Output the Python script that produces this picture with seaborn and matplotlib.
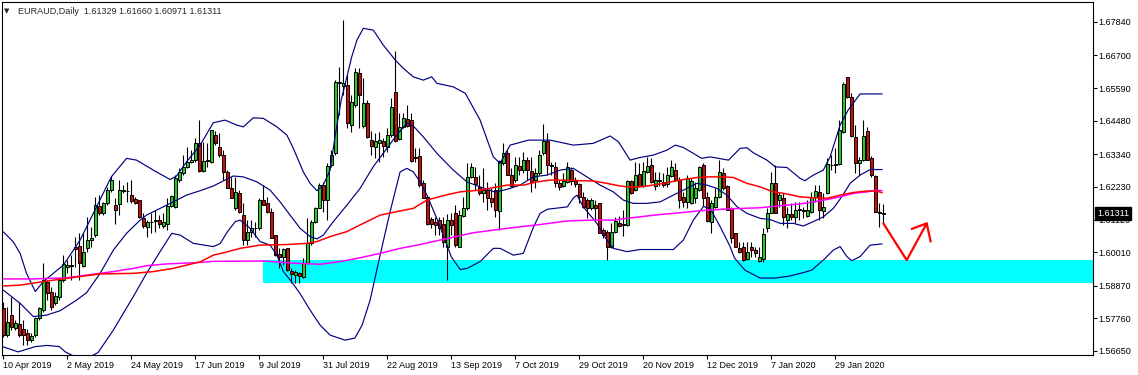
import matplotlib
matplotlib.use("Agg")
import matplotlib.pyplot as plt
import matplotlib.transforms as mtransforms
import numpy as np
import pandas as pd
import seaborn as sns

# ---- daily candles (10 Apr 2019 .. 7 Feb 2020) ----
opens = [
    1.5810, 1.5719, 1.5787, 1.5742, 1.5757, 1.5739, 1.5725, 1.5702, 1.5719, 1.5776,
    1.5804, 1.5901, 1.5867, 1.5829, 1.5850, 1.5906, 1.5952, 1.5955, 1.6020, 1.6022,
    1.5954, 1.6014, 1.6044, 1.6059, 1.6158, 1.6133, 1.6167, 1.6212, 1.6163, 1.6165,
    1.6212, 1.6210, 1.6197, 1.6181, 1.6178, 1.6116, 1.6087, 1.6104, 1.6107, 1.6110,
    1.6090, 1.6097, 1.6158, 1.6155, 1.6246, 1.6269, 1.6291, 1.6307, 1.6314, 1.6371,
    1.6277, 1.6311, 1.6308, 1.6399, 1.6359, 1.6331, 1.6272, 1.6220, 1.6152, 1.6201,
    1.6129, 1.6042, 1.6068, 1.6082, 1.6082, 1.6178, 1.6167, 1.6136, 1.6059, 1.5996,
    1.5986, 1.6014, 1.5937, 1.5923, 1.5930, 1.5918, 1.5963, 1.6031, 1.6105, 1.6152,
    1.6231, 1.6178, 1.6297, 1.6337, 1.6580, 1.6566, 1.6569, 1.6433, 1.6501, 1.6609,
    1.6430, 1.6507, 1.6384, 1.6358, 1.6373, 1.6379, 1.6359, 1.6399, 1.6546, 1.6386,
    1.6427, 1.6454, 1.6450, 1.6320, 1.6329, 1.6235, 1.6189, 1.6113, 1.6102, 1.6110,
    1.6096, 1.6020, 1.6112, 1.6133, 1.6020, 1.6124, 1.6150, 1.6255, 1.6255, 1.6223,
    1.6201, 1.6212, 1.6184, 1.6212, 1.6142, 1.6303, 1.6337, 1.6263, 1.6248, 1.6294,
    1.6280, 1.6316, 1.6278, 1.6246, 1.6269, 1.6337, 1.6380, 1.6297, 1.6291, 1.6237,
    1.6226, 1.6240, 1.6282, 1.6244, 1.6233, 1.6187, 1.6178, 1.6150, 1.6163, 1.6167,
    1.6078, 1.6070, 1.6017, 1.6070, 1.6101, 1.6095, 1.6093, 1.6244, 1.6214, 1.6266,
    1.6226, 1.6274, 1.6297, 1.6226, 1.6244, 1.6240, 1.6233, 1.6260, 1.6282, 1.6248,
    1.6187, 1.6172, 1.6167, 1.6186, 1.6212, 1.6297, 1.6189, 1.6105, 1.6156, 1.6187,
    1.6271, 1.6226, 1.6150, 1.6065, 1.6014, 1.6020, 1.5977, 1.6017, 1.6010, 1.5972,
    1.5977, 1.6082, 1.6135, 1.6235, 1.6178, 1.6184, 1.6112, 1.6131, 1.6121, 1.6146,
    1.6146, 1.6124, 1.6138, 1.6189, 1.6206, 1.6142, 1.6201, 1.6299, 1.6297, 1.6301,
    1.6410, 1.6595, 1.6527, 1.6391, 1.6303, 1.6316, 1.6413, 1.6320, 1.6260, 1.6138,
    1.61329,
]
highs = [
    1.5833, 1.5816, 1.5850, 1.5770, 1.5833, 1.5770, 1.5739, 1.5725, 1.5782, 1.5816,
    1.5963, 1.5906, 1.5884, 1.5867, 1.5912, 1.5991, 1.5974, 1.5991, 1.6053, 1.6065,
    1.6065, 1.6121, 1.6087, 1.6189, 1.6195, 1.6172, 1.6223, 1.6260, 1.6184, 1.6246,
    1.6229, 1.6240, 1.6248, 1.6189, 1.6180, 1.6133, 1.6110, 1.6133, 1.6144, 1.6127,
    1.6133, 1.6184, 1.6195, 1.6263, 1.6286, 1.6331, 1.6359, 1.6348, 1.6388, 1.6450,
    1.6376, 1.6371, 1.6418, 1.6414, 1.6405, 1.6348, 1.6280, 1.6257, 1.6257, 1.6212,
    1.6167, 1.6110, 1.6110, 1.6105, 1.6184, 1.6229, 1.6189, 1.6150, 1.6060, 1.6014,
    1.6014, 1.6015, 1.5946, 1.5940, 1.5935, 1.5980, 1.6116, 1.6110, 1.6156, 1.6235,
    1.6240, 1.6303, 1.6348, 1.6586, 1.6631, 1.6790, 1.6603, 1.6535, 1.6626, 1.6626,
    1.6592, 1.6518, 1.6413, 1.6405, 1.6410, 1.6390, 1.6422, 1.6524, 1.6685, 1.6473,
    1.6473, 1.6501, 1.6473, 1.6354, 1.6354, 1.6246, 1.6195, 1.6122, 1.6122, 1.6122,
    1.6122, 1.6131, 1.6133, 1.6161, 1.6144, 1.6189, 1.6303, 1.6303, 1.6289, 1.6263,
    1.6286, 1.6240, 1.6218, 1.6235, 1.6314, 1.6373, 1.6348, 1.6286, 1.6325, 1.6325,
    1.6342, 1.6325, 1.6325, 1.6286, 1.6348, 1.6436, 1.6405, 1.6308, 1.6308, 1.6246,
    1.6269, 1.6308, 1.6291, 1.6257, 1.6235, 1.6206, 1.6184, 1.6184, 1.6180, 1.6169,
    1.6082, 1.6076, 1.6099, 1.6121, 1.6124, 1.6144, 1.6246, 1.6246, 1.6308, 1.6303,
    1.6308, 1.6325, 1.6320, 1.6274, 1.6274, 1.6269, 1.6291, 1.6316, 1.6303, 1.6257,
    1.6206, 1.6263, 1.6252, 1.6240, 1.6294, 1.6303, 1.6206, 1.6178, 1.6218, 1.6314,
    1.6286, 1.6229, 1.6156, 1.6067, 1.6037, 1.6037, 1.6037, 1.6037, 1.6017, 1.6020,
    1.6082, 1.6150, 1.6274, 1.6297, 1.6206, 1.6201, 1.6156, 1.6167, 1.6172, 1.6172,
    1.6156, 1.6178, 1.6206, 1.6229, 1.6229, 1.6203, 1.6320, 1.6331, 1.6354, 1.6450,
    1.6580, 1.6597, 1.6543, 1.6433, 1.6325, 1.6450, 1.6427, 1.6328, 1.6263, 1.6167,
    1.61660,
]
lows = [
    1.5714, 1.5714, 1.5736, 1.5736, 1.5714, 1.5685, 1.5685, 1.5697, 1.5714, 1.5770,
    1.5799, 1.5838, 1.5804, 1.5821, 1.5838, 1.5901, 1.5929, 1.5906, 1.5952, 1.5906,
    1.5952, 1.6002, 1.6020, 1.6053, 1.6127, 1.6127, 1.6161, 1.6206, 1.6097, 1.6127,
    1.6201, 1.6172, 1.6167, 1.6165, 1.6116, 1.6082, 1.6053, 1.6065, 1.6070, 1.6082,
    1.6082, 1.6076, 1.6155, 1.6150, 1.6240, 1.6263, 1.6286, 1.6303, 1.6308, 1.6274,
    1.6274, 1.6291, 1.6303, 1.6365, 1.6325, 1.6246, 1.6218, 1.6184, 1.6144, 1.6133,
    1.6025, 1.6025, 1.6054, 1.6054, 1.6076, 1.6161, 1.6133, 1.6048, 1.5989, 1.5946,
    1.5957, 1.5937, 1.5895, 1.5895, 1.5895, 1.5912, 1.5960, 1.6025, 1.6099, 1.6150,
    1.6139, 1.6110, 1.6292, 1.6333, 1.6467, 1.6535, 1.6422, 1.6410, 1.6495, 1.6422,
    1.6422, 1.6390, 1.6331, 1.6320, 1.6308, 1.6325, 1.6342, 1.6393, 1.6376, 1.6382,
    1.6422, 1.6427, 1.6308, 1.6308, 1.6223, 1.6184, 1.6093, 1.6082, 1.6059, 1.6059,
    1.6020, 1.5906, 1.6059, 1.6020, 1.6017, 1.6121, 1.6146, 1.6252, 1.6212, 1.6195,
    1.6172, 1.6144, 1.6155, 1.6121, 1.6076, 1.6297, 1.6263, 1.6223, 1.6240, 1.6263,
    1.6269, 1.6246, 1.6206, 1.6218, 1.6263, 1.6331, 1.6263, 1.6263, 1.6223, 1.6212,
    1.6221, 1.6237, 1.6229, 1.6223, 1.6167, 1.6150, 1.6116, 1.6144, 1.6110, 1.6065,
    1.6048, 1.5976, 1.6014, 1.6067, 1.6088, 1.6056, 1.6090, 1.6199, 1.6210, 1.6221,
    1.6221, 1.6271, 1.6237, 1.6212, 1.6226, 1.6223, 1.6223, 1.6255, 1.6244, 1.6150,
    1.6156, 1.6150, 1.6165, 1.6167, 1.6210, 1.6158, 1.6105, 1.6065, 1.6150, 1.6184,
    1.6212, 1.6144, 1.6033, 1.6017, 1.5997, 1.5972, 1.5974, 1.5986, 1.5986, 1.5969,
    1.5969, 1.6071, 1.6133, 1.6133, 1.6156, 1.6093, 1.6082, 1.6110, 1.6099, 1.6112,
    1.6116, 1.6121, 1.6133, 1.6172, 1.6112, 1.6116, 1.6199, 1.6280, 1.6269, 1.6297,
    1.6405, 1.6524, 1.6393, 1.6269, 1.6263, 1.6312, 1.6314, 1.6257, 1.6138, 1.6088,
    1.60971,
]
closes = [
    1.5719, 1.5765, 1.5748, 1.5759, 1.5719, 1.5719, 1.5702, 1.5716, 1.5776, 1.5810,
    1.5906, 1.5861, 1.5816, 1.5852, 1.5906, 1.5961, 1.5959, 1.5958, 1.6012, 1.5963,
    1.6002, 1.6044, 1.6048, 1.6161, 1.6135, 1.6167, 1.6214, 1.6248, 1.6144, 1.6214,
    1.6210, 1.6208, 1.6175, 1.6167, 1.6119, 1.6090, 1.6102, 1.6105, 1.6112, 1.6097,
    1.6102, 1.6159, 1.6192, 1.6252, 1.6274, 1.6291, 1.6308, 1.6316, 1.6371, 1.6278,
    1.6311, 1.6313, 1.6416, 1.6371, 1.6331, 1.6274, 1.6220, 1.6186, 1.6204, 1.6136,
    1.6042, 1.6071, 1.6082, 1.6084, 1.6178, 1.6163, 1.6136, 1.6050, 1.5991, 1.5986,
    1.6011, 1.5940, 1.5928, 1.5932, 1.5920, 1.5963, 1.6031, 1.6102, 1.6150, 1.6231,
    1.6178, 1.6295, 1.6333, 1.6580, 1.6575, 1.6575, 1.6439, 1.6510, 1.6614, 1.6535,
    1.6507, 1.6393, 1.6362, 1.6379, 1.6382, 1.6363, 1.6401, 1.6493, 1.6380, 1.6425,
    1.6456, 1.6431, 1.6311, 1.6325, 1.6229, 1.6186, 1.6097, 1.6096, 1.6093, 1.6082,
    1.6036, 1.6112, 1.6093, 1.6025, 1.6126, 1.6150, 1.6255, 1.6291, 1.6233, 1.6203,
    1.6212, 1.6184, 1.6172, 1.6144, 1.6311, 1.6339, 1.6265, 1.6226, 1.6297, 1.6282,
    1.6316, 1.6280, 1.6240, 1.6271, 1.6331, 1.6380, 1.6297, 1.6294, 1.6235, 1.6223,
    1.6243, 1.6289, 1.6244, 1.6233, 1.6187, 1.6155, 1.6150, 1.6178, 1.6150, 1.6067,
    1.6061, 1.6020, 1.6070, 1.6107, 1.6090, 1.6097, 1.6244, 1.6201, 1.6263, 1.6226,
    1.6278, 1.6294, 1.6240, 1.6248, 1.6245, 1.6229, 1.6263, 1.6289, 1.6248, 1.6180,
    1.6172, 1.6252, 1.6243, 1.6218, 1.6289, 1.6184, 1.6108, 1.6169, 1.6189, 1.6274,
    1.6218, 1.6146, 1.6050, 1.6020, 1.6003, 1.5974, 1.6003, 1.6008, 1.5997, 1.5983,
    1.6063, 1.6133, 1.6235, 1.6135, 1.6195, 1.6119, 1.6131, 1.6119, 1.6144, 1.6148,
    1.6142, 1.6146, 1.6189, 1.6210, 1.6146, 1.6156, 1.6301, 1.6297, 1.6301, 1.6416,
    1.6572, 1.6527, 1.6396, 1.6303, 1.6314, 1.6396, 1.6316, 1.6263, 1.6138, 1.6133,
    1.61311,
]

# ---- indicator lines (bar index, price) ----
bb_up_x = [0, 2.5, 4.2, 5.8, 8, 10, 15, 19.2, 23.3, 27, 30.8, 33.3, 37.5, 41.7, 43.3,
           45.8, 49.2, 52.5, 55.4, 58.4, 60, 62.5, 65, 68.4, 70.9, 72.5, 75, 76.7, 78.4,
           80, 81.7, 83, 84.5, 85.9, 87.1, 88.4, 90, 92.5, 95, 98, 100, 102.5, 105,
           107.1, 108.4, 110.5, 112.5, 115.5, 119.2, 122.5, 124.2, 126.7, 131.3, 136.7,
           142.5, 147.5, 151.7, 153.8, 156.7, 159.2, 162.5, 165.9, 168, 170, 172.5,
           174.6, 176.7, 181.3, 184.2, 185.9, 187.5, 190.9, 193, 195.9, 199.2, 200.4,
           202.5, 205, 206.7, 209.2, 211.2, 214.2, 219.7]
bb_up_y = [1.6070, 1.6036, 1.5997, 1.5929, 1.5867, 1.5901, 1.5957, 1.6042, 1.6155, 1.6257,
           1.6320, 1.6314, 1.6280, 1.6248, 1.6260, 1.6308, 1.6365, 1.6441, 1.6450, 1.6433,
           1.6427, 1.6458, 1.6456, 1.6427, 1.6399, 1.6354, 1.6274, 1.6235, 1.6210, 1.6230,
           1.6280, 1.6400, 1.6520, 1.6597, 1.6665, 1.6722, 1.6762, 1.6756, 1.6705, 1.6654,
           1.6626, 1.6597, 1.6586, 1.6597, 1.6575, 1.6569, 1.6563, 1.6541, 1.6450, 1.6325,
           1.6303, 1.6365, 1.6382, 1.6382, 1.6365, 1.6371, 1.6396, 1.6376, 1.6314, 1.6323,
           1.6331, 1.6348, 1.6365, 1.6357, 1.6337, 1.6320, 1.6325, 1.6314, 1.6354, 1.6356,
           1.6339, 1.6314, 1.6291, 1.6289, 1.6252, 1.6244, 1.6263, 1.6280, 1.6325, 1.6433,
           1.6484, 1.6539, 1.6539]

bb_mid_x = [0, 4.2, 7.5, 10.8, 14.2, 18.3, 20.8, 24.2, 27.5, 30.8, 34.2, 35.8, 39.2, 42.5,
            45.8, 49.2, 52.5, 55.4, 57.5, 60, 63.4, 66.7, 69.2, 71.7, 74.2, 76.7, 78.4, 80,
            82.5, 85.9, 89.2, 92.5, 95.9, 98.4, 100.9, 102.5, 105, 108.4, 112.5, 115.9,
            119.2, 123, 126, 129.2, 132.5, 135.9, 139.2, 142.5, 145.9, 149.2, 152.5, 155,
            157.5, 160.9, 164.2, 167.5, 170.9, 173.4, 175.9, 178.4, 180.9, 183.4, 185.9,
            189.2, 191.7, 194.2, 197.5, 200, 202.5, 205, 207.5, 209.6, 211.7, 214.2, 216.7,
            219.7]
bb_mid_y = [1.5872, 1.5827, 1.5782, 1.5787, 1.5802, 1.5838, 1.5863, 1.5929, 1.6008, 1.6065,
            1.6110, 1.6127, 1.6150, 1.6172, 1.6195, 1.6210, 1.6226, 1.6246, 1.6260, 1.6257,
            1.6240, 1.6212, 1.6172, 1.6127, 1.6082, 1.6054, 1.6046, 1.6059, 1.6105, 1.6161,
            1.6218, 1.6292, 1.6354, 1.6400, 1.6440, 1.6430, 1.6393, 1.6337, 1.6280, 1.6240,
            1.6223, 1.6205, 1.6215, 1.6229, 1.6257, 1.6263, 1.6280, 1.6286, 1.6257, 1.6229,
            1.6206, 1.6178, 1.6167, 1.6167, 1.6172, 1.6195, 1.6218, 1.6235, 1.6229, 1.6218,
            1.6195, 1.6156, 1.6133, 1.6116, 1.6112, 1.6099, 1.6099, 1.6090, 1.6105, 1.6121,
            1.6150, 1.6189, 1.6235, 1.6263, 1.6282, 1.6282]

bb_low_x = [0, 3.7, 8, 11, 14, 15.5, 18, 21, 23.7, 27.5, 32.5, 35.8, 39.2, 42.1, 44.2,
            47.5, 52.5, 54.2, 56, 58, 59.2, 61.7, 64.2, 66.7, 68.4, 70, 72.1, 74.2, 76.7,
            79.2, 81.7, 85.4, 87.9, 89.7, 91.7, 94.2, 96.7, 99.2, 100.9, 102.5, 104.2,
            105.9, 108.4, 110.5, 112, 114.2, 116, 119.2, 122.5, 124.2, 127.5, 130, 132.5,
            134.2, 136, 141, 142.5, 143.4, 145, 148.4, 150.9, 152.5, 155.9, 159.2, 165.4,
            167.5, 170, 172.5, 175, 176.7, 179.2, 181.7, 182.8, 185.4, 189.2, 193, 196.7,
            200.4, 202.1, 205, 207.5, 209.2, 210.9, 212.1, 214.2, 216.7, 219.7]
bb_low_y = [1.5679, 1.5662, 1.5680, 1.5684, 1.5680, 1.5662, 1.5645, 1.5640, 1.5660, 1.5736,
            1.5850, 1.5929, 1.6003, 1.6065, 1.6059, 1.6031, 1.6020, 1.6030, 1.6070, 1.6105,
            1.6110, 1.6082, 1.6037, 1.6025, 1.5991, 1.5935, 1.5900, 1.5860, 1.5804, 1.5753,
            1.5719, 1.5702, 1.5709, 1.5753, 1.5838, 1.5991, 1.6139, 1.6274, 1.6286, 1.6274,
            1.6240, 1.6195, 1.6115, 1.6040, 1.5985, 1.5942, 1.5946, 1.5969, 1.6014, 1.6014,
            1.5991, 1.5997, 1.6085, 1.6133, 1.6147, 1.6155, 1.6185, 1.6195, 1.6155, 1.6099,
            1.6042, 1.6014, 1.6003, 1.6010, 1.6010, 1.6010, 1.6042, 1.6110, 1.6156, 1.6150,
            1.6088, 1.6020, 1.5981, 1.5940, 1.5913, 1.5913, 1.5920, 1.5933, 1.5940, 1.5974,
            1.6008, 1.6020, 1.5986, 1.5972, 1.5986, 1.6025, 1.6029]

ma_red_x = [0, 4.2, 10, 15.8, 24.2, 32.5, 37.5, 42.5, 45.8, 49.2, 52.5, 55.4, 59.2, 64.2,
            70.9, 75.9, 78.4, 81.7, 85.9, 90, 94.2, 98.4, 102.5, 105.9, 110.5, 114.2,
            119.2, 125.9, 130, 133.4, 136.7, 140.9, 144.2, 147.5, 150.9, 154.2, 157.5,
            160.9, 164.2, 169.2, 173.4, 176.7, 180, 182.5, 185.9, 189.2, 192.5, 195.9,
            199.2, 202.5, 205.9, 209.2, 212.5, 215.9, 218.4, 219.7]
ma_red_y = [1.5886, 1.5889, 1.5901, 1.5912, 1.5927, 1.5929, 1.5935, 1.5946, 1.5957, 1.5968,
            1.5991, 1.6000, 1.6014, 1.6025, 1.6027, 1.6031, 1.6037, 1.6054, 1.6071, 1.6099,
            1.6127, 1.6139, 1.6150, 1.6178, 1.6195, 1.6206, 1.6212, 1.6229, 1.6229, 1.6240,
            1.6246, 1.6246, 1.6244, 1.6243, 1.6235, 1.6226, 1.6221, 1.6226, 1.6233, 1.6246,
            1.6255, 1.6257, 1.6257, 1.6255, 1.6235, 1.6223, 1.6206, 1.6199, 1.6189, 1.6186,
            1.6184, 1.6195, 1.6204, 1.6209, 1.6209, 1.6203]

ma_mag_x = [0, 7.5, 15.8, 24.2, 27.5, 32.5, 35.8, 40.8, 45.8, 49.2, 52.5, 55.4, 65, 73.4,
            79.2, 84.2, 89.2, 94.2, 99.2, 104.2, 110.5, 117.5, 125.9, 134.2, 140.9, 146.7,
            152.5, 155.9, 160.9, 164.2, 169.2, 174.2, 180.9, 189.2, 194.2, 199.2, 202.5,
            205.9, 209.2, 212.5, 215.9, 218.4, 219.7]
ma_mag_y = [1.5910, 1.5910, 1.5914, 1.5929, 1.5935, 1.5946, 1.5955, 1.5961, 1.5964, 1.5966,
            1.5970, 1.5970, 1.5971, 1.5963, 1.5960, 1.5969, 1.5982, 1.5997, 1.6014, 1.6027,
            1.6046, 1.6067, 1.6082, 1.6095, 1.6107, 1.6110, 1.6110, 1.6116, 1.6124, 1.6129,
            1.6135, 1.6142, 1.6148, 1.6152, 1.6159, 1.6165, 1.6172, 1.6180, 1.6189, 1.6201,
            1.6206, 1.6212, 1.6210]

# support zone (cyan) and the hand-drawn red arrow
zone_start = 64.85
zone_low, zone_high = 1.5897, 1.5974
arrow_x = [220, 225.85, 230.85]
arrow_y = [1.6099, 1.5974, 1.6099]
head_x = [227.1, 230.85, 231.85]
head_y = [1.6080, 1.6099, 1.6037]

tick_bars = [0, 16, 32, 48, 64, 80, 96, 112, 128, 144, 160, 176, 192, 208]
tick_dates = ["10 Apr 2019", "2 May 2019", "24 May 2019", "17 Jun 2019", "9 Jul 2019",
              "31 Jul 2019", "22 Aug 2019", "13 Sep 2019", "7 Oct 2019", "29 Oct 2019",
              "20 Nov 2019", "12 Dec 2019", "7 Jan 2020", "29 Jan 2020"]
price_ticks = [1.67840, 1.66700, 1.65590, 1.64480, 1.63340, 1.62230,
               1.61120, 1.60010, 1.58870, 1.57760, 1.56650]

sns.set_style("white")
plt.rcParams['font.family'] = ['Liberation Sans', 'DejaVu Sans']

W, H = 1138, 375
fig = plt.figure(figsize=(W / 100, H / 100), dpi=100)
left, right, top, bottom = 2, 1092.5, 2, 354.5
ax = fig.add_axes([left / W, 1 - bottom / H, (right - left) / W, (bottom - top) / H])

df = pd.DataFrame({"o": opens, "h": highs, "l": lows, "c": closes})
df["i"] = np.arange(len(df))
bull = df["c"] >= df["o"]

# zone behind everything
ax.fill_between([zone_start, 300], zone_low, zone_high, color="#00FFFF", lw=0, zorder=0.5)

# wicks + bodies
ax.vlines(df["i"], df["l"], df["h"], color="black", lw=0.8, zorder=3)
body_lo = np.minimum(df["o"], df["c"])
body_h = (df["c"] - df["o"]).abs()
ax.bar(df["i"], body_h, bottom=body_lo, width=0.72,
       color=np.where(bull, "#22cc22", "#d20a0a"), edgecolor="black",
       linewidth=0.7, zorder=4)

# indicators
for xs, ys, col, lw in [(bb_up_x, bb_up_y, "#000080", 0.85),
                        (bb_mid_x, bb_mid_y, "#000080", 0.85),
                        (bb_low_x, bb_low_y, "#000080", 0.85),
                        (ma_mag_x, ma_mag_y, "#FF00FF", 1.1),
                        (ma_red_x, ma_red_y, "#FF0000", 1.1)]:
    sns.lineplot(x=xs, y=ys, color=col, lw=lw, ax=ax, legend=False,
                 estimator=None, sort=False, zorder=5)

sns.lineplot(x=arrow_x, y=arrow_y, color="#FF0000", lw=1.6, ax=ax, sort=False,
             estimator=None, zorder=6)
sns.lineplot(x=head_x, y=head_y, color="#FF0000", lw=1.6, ax=ax, sort=False,
             estimator=None, zorder=6)

ax.set_xlim(-0.33, 272.3)
ax.set_ylim(1.56531, 1.68516)
ax.set_xlabel("")
ax.set_ylabel("")

ax.set_xticks(tick_bars)
ax.set_xticklabels(tick_dates, ha="left")
ax.yaxis.tick_right()
ax.set_yticks(price_ticks)
ax.set_yticklabels([f"{v:.5f}" for v in price_ticks])
ax.tick_params(axis="x", bottom=True, length=3, width=0.8, pad=1.5,
               labelsize=6.5, colors="black")
ax.tick_params(axis="y", right=True, left=False, labelright=True, labelleft=False,
               length=3, width=0.8, pad=1.5, labelsize=6.5, colors="black")
for s in ax.spines.values():
    s.set_color("black")
    s.set_linewidth(0.8)

# header and last-price tag
ax.text(0.002, 0.974, "\u25BC", transform=ax.transAxes, fontsize=5,
        family="DejaVu Sans", va="center", ha="left")
ax.text(0.0147, 0.974,
        f"EURAUD,Daily  {opens[-1]:.5f} {highs[-1]:.5f} {lows[-1]:.5f} {closes[-1]:.5f}",
        transform=ax.transAxes, fontsize=6.5, va="center", ha="left")
trans = mtransforms.blended_transform_factory(ax.transAxes, ax.transData)
ax.text(1.0042, closes[-1], f"{closes[-1]:.5f}", transform=trans, fontsize=6.5,
        color="white", va="center", ha="left", clip_on=False, zorder=20,
        bbox=dict(boxstyle="square,pad=0.22", fc="black", ec="black"))

fig.savefig("out.png", dpi=100, facecolor="white")
